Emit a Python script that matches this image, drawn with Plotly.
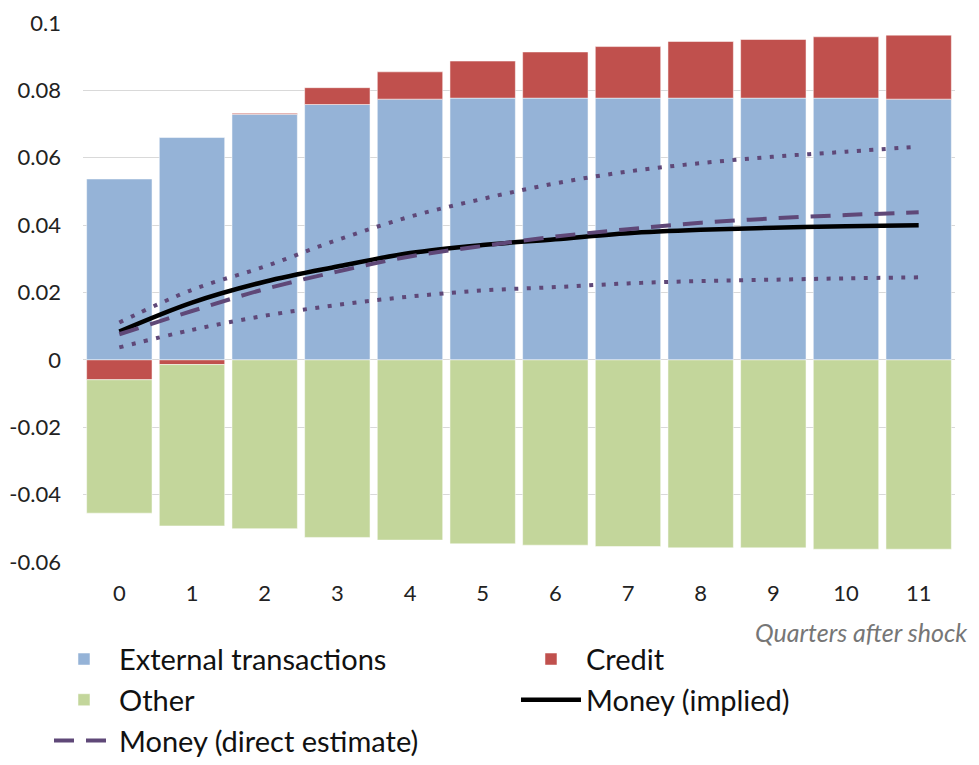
import plotly.graph_objects as go

quarters = [str(i) for i in range(12)]
external = [0.0537, 0.0660, 0.0729, 0.0758, 0.0774, 0.0777, 0.0777, 0.0777, 0.0777, 0.0777, 0.0777, 0.0774]
credit = [-0.0059, -0.0014, 0.0003, 0.0050, 0.0081, 0.0110, 0.0137, 0.0153, 0.0168, 0.0174, 0.0182, 0.0190]
other = [-0.0396, -0.0479, -0.0501, -0.0527, -0.0535, -0.0546, -0.0550, -0.0554, -0.0558, -0.0558, -0.0562, -0.0562]
money_implied = [0.0084, 0.0170, 0.0232, 0.0277, 0.0317, 0.0341, 0.0358, 0.0376, 0.0386, 0.0392, 0.0397, 0.0400]
money_direct = [0.0076, 0.0145, 0.0210, 0.0262, 0.0307, 0.0338, 0.0366, 0.0388, 0.0407, 0.0420, 0.0430, 0.0438]
upper_band = [0.0111, 0.0208, 0.0277, 0.0356, 0.0425, 0.0478, 0.0524, 0.0559, 0.0584, 0.0603, 0.0618, 0.0633]
lower_band = [0.0037, 0.0089, 0.0131, 0.0163, 0.0188, 0.0206, 0.0216, 0.0227, 0.0234, 0.0238, 0.0242, 0.0245]
y_ticks = [-0.06, -0.04, -0.02, 0, 0.02, 0.04, 0.06, 0.08, 0.1]
y_tick_labels = ["-0.06", "-0.04", "-0.02", "0", "0.02", "0.04", "0.06", "0.08", "0.1"]

FONT = "Lato"
purple = "#5F4878"

fig = go.Figure()
fig.add_trace(go.Bar(x=quarters, y=external, name="External transactions",
                     marker=dict(color="#95B3D7", line=dict(color="white", width=0.5))))
fig.add_trace(go.Bar(x=quarters, y=credit, name="Credit",
                     marker=dict(color="#C0504D", line=dict(color="white", width=0.5))))
fig.add_trace(go.Bar(x=quarters, y=other, name="Other",
                     marker=dict(color="#C3D69B", line=dict(color="white", width=0.5))))
fig.add_trace(go.Scatter(x=quarters, y=money_implied, name="Money (implied)", mode="lines",
                         line=dict(color="black", width=4.5, shape="spline")))
fig.add_trace(go.Scatter(x=quarters, y=money_direct, name="Money (direct estimate)", mode="lines",
                         line=dict(color=purple, width=4, dash="20px,12px", shape="spline")))
fig.add_trace(go.Scatter(x=quarters, y=upper_band, mode="lines", showlegend=False,
                         line=dict(color=purple, width=4, dash="4px,8.5px", shape="spline")))
fig.add_trace(go.Scatter(x=quarters, y=lower_band, mode="lines", showlegend=False,
                         line=dict(color=purple, width=4, dash="4px,8.5px", shape="spline")))

fig.update_layout(
    width=963, height=749,
    margin=dict(l=75, r=16, t=15, b=195, autoexpand=False),
    barmode="relative", bargap=0.1,
    plot_bgcolor="white", paper_bgcolor="white",
    font=dict(family=FONT, size=22, color="#222222"),
    xaxis=dict(type="category", showgrid=False, ticks="", showline=False,
               tickfont=dict(size=22), ticklabelstandoff=16),
    yaxis=dict(range=[-0.06, 0.1], tickvals=y_ticks, ticktext=y_tick_labels,
               showgrid=True, gridcolor="#D9D9D9", gridwidth=1,
               zeroline=True, zerolinecolor="#D9D9D9", zerolinewidth=1,
               ticks="", tickfont=dict(size=22), ticklabelstandoff=21),
    legend=dict(orientation="h", x=-0.039, y=-0.133, xanchor="left", yanchor="top",
                font=dict(size=29, family=FONT, color="#111111"),
                entrywidth=392, entrywidthmode="pixels", itemwidth=60,
                traceorder="normal"),
    annotations=[dict(text="<i>Quarters after shock</i>", xref="paper", yref="paper",
                      x=1.017, y=-0.13, xanchor="right", yanchor="middle", showarrow=False,
                      font=dict(size=25, color="#767676", family=FONT))],
)

fig.write_html("out.html")
